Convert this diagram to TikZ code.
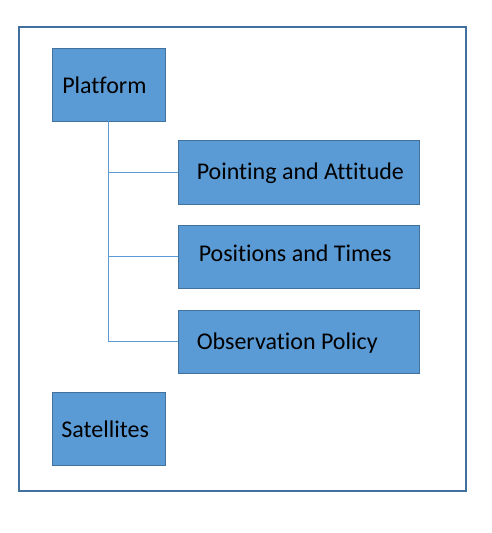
\documentclass[tikz,border=0pt]{standalone}
\usepackage{fontspec}
\setmainfont{Carlito}[Ligatures={NoCommon}]
\definecolor{boxfill}{HTML}{5B9BD5}
\definecolor{boxline}{HTML}{41719C}
\definecolor{conn}{HTML}{5B9BD5}
\definecolor{frame}{HTML}{41719C}
\begin{document}
\begin{tikzpicture}[x=1pt,y=-1pt,
  box/.style={draw=boxline, fill=boxfill, line width=0.9pt, inner sep=0pt},
  lbl/.style={inner sep=0pt, font=\fontsize{24}{28}\selectfont, text=black},
  conline/.style={draw=conn, line width=0.9pt}]
\useasboundingbox (0,0) rectangle (492,533);
\draw[frame, line width=1.2pt] (19,27) rectangle (466,491);
\node[box, minimum width=113pt, minimum height=73pt] (plat) at (108.5,84.5) {};
\node[box, minimum width=241pt, minimum height=64pt] (pa) at (298.5,172) {};
\node[box, minimum width=241pt, minimum height=63pt] (pt) at (298.5,256.5) {};
\node[box, minimum width=241pt, minimum height=63pt] (op) at (298.5,341.5) {};
\node[box, minimum width=113pt, minimum height=73pt] (sat) at (108.5,428.5) {};
\node[lbl, anchor=west] (platL) at ([xshift=10.5pt,yshift=-1pt]plat.west) {Platform};
\node[lbl, anchor=west] (paL) at ([xshift=19pt,yshift=-1.5pt]pa.west) {Pointing and Attitude};
\node[lbl, anchor=west] (ptL) at ([xshift=21pt,yshift=3pt]pt.west) {Positions and Times};
\node[lbl, anchor=west] (opL) at ([xshift=19pt,yshift=-1.5pt]op.west) {Observation Policy};
\node[lbl, anchor=west] (satL) at ([xshift=9.5pt,yshift=-1pt]sat.west) {Satellites};
\draw[conline] (plat.south) |- (op.west);
\draw[conline] (plat.south |- pa.west) -- (pa.west);
\draw[conline] (plat.south |- pt.west) -- (pt.west);
\end{tikzpicture}
\end{document}
